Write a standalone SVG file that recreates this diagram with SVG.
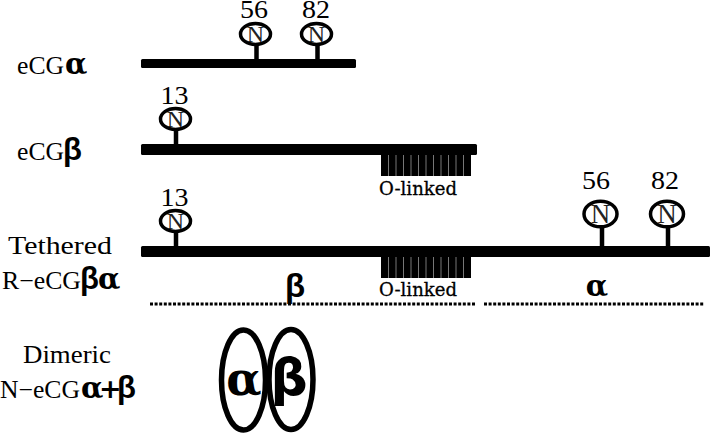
<svg xmlns="http://www.w3.org/2000/svg" width="710" height="433" viewBox="0 0 710 433">
<style>
text{font-family:"Liberation Serif","DejaVu Serif",serif;fill:#000}
.lab{font-size:25px}
.g{font-family:"DejaVu Serif",serif;font-weight:bold;font-size:29px}
.b{font-family:"Liberation Sans",sans-serif;font-weight:bold;font-size:31px}
.bb{font-family:"DejaVu Sans",sans-serif;font-weight:bold;font-size:52px}
.p{font-family:"DejaVu Sans",sans-serif;font-weight:bold;font-size:27px}
.num{font-size:26px;text-anchor:middle}
.n{font-size:24px;text-anchor:middle;fill:#222}
.n2{font-size:27px;text-anchor:middle;fill:#222}
.ol{font-size:18px;font-family:"DejaVu Serif",serif;stroke:#000;stroke-width:.3}
.bar{fill:#000}
.stem{stroke:#000;stroke-width:4.500}
.ring{fill:#fff;stroke:#000;stroke-width:3.500}
.big{fill:none;stroke:#000;stroke-width:5.500}
.dot{stroke:#000;stroke-width:3;stroke-dasharray:3 1.6;fill:none}
.tick{stroke:#777;stroke-width:1}
</style>
<defs>
<g id="comb"><rect x="381" width="90" height="21" fill="#000"/>
<path class="tick" d="M388.500 0v21M396 0v21M403.500 0v21M411 0v21M418.500 0v21M426 0v21M433.500 0v21M441 0v21M448.500 0v21M456 0v21M463.500 0v21"/></g>
</defs>
<g id="connectors">
<rect class="bar" x="141" y="59" width="215" height="9" rx="1.500"/>
<rect class="bar" x="141" y="144" width="336" height="11" rx="1.500"/>
<rect class="bar" x="141" y="246" width="569" height="11" rx="1.500"/>
<path class="stem" d="M256.500 45V59M317.500 45V59M176 130V144M176 232V246M602 226V246M668 226V246"/>
<path class="dot" d="M150 304H475M484 304H704"/>
</g>
<g id="label-alpha"><text class="lab" x="17" y="74" textLength="47" lengthAdjust="spacingAndGlyphs">eCG</text><text class="g" x="65" y="74">α</text></g>
<g id="label-beta"><text class="lab" x="17" y="160" textLength="47" lengthAdjust="spacingAndGlyphs">eCG</text><text class="b" x="63" y="160">β</text></g>
<g id="label-tethered"><text class="lab" x="8" y="254" textLength="104" lengthAdjust="spacingAndGlyphs">Tethered</text><text class="lab" x="2" y="289" textLength="79" lengthAdjust="spacingAndGlyphs">R−eCG</text><text x="80" y="289"><tspan class="b">β</tspan><tspan class="g" x="98">α</tspan></text></g>
<g id="label-dimeric"><text class="lab" x="23" y="363" textLength="88" lengthAdjust="spacingAndGlyphs">Dimeric</text><text class="lab" x="0" y="398" textLength="80" lengthAdjust="spacingAndGlyphs">N−eCG</text><text x="81" y="398"><tspan class="g">α</tspan><tspan class="p" x="99">+</tspan><tspan class="b" x="117">β</tspan></text></g>
<g id="site-a56"><text class="num" x="254" y="18" textLength="28" lengthAdjust="spacingAndGlyphs">56</text><ellipse class="ring" cx="255.500" cy="34" rx="15" ry="10.500"/><text class="n" x="255.500" y="42">N</text></g>
<g id="site-a82"><text class="num" x="316" y="18" textLength="28" lengthAdjust="spacingAndGlyphs">82</text><ellipse class="ring" cx="316.500" cy="34" rx="15" ry="10.500"/><text class="n" x="316.500" y="42">N</text></g>
<g id="site-b13"><text class="num" x="174.500" y="104" textLength="28" lengthAdjust="spacingAndGlyphs">13</text><ellipse class="ring" cx="175.500" cy="119" rx="15" ry="10.500"/><text class="n" x="175.500" y="127">N</text></g>
<g id="site-t13"><text class="num" x="174.500" y="206" textLength="28" lengthAdjust="spacingAndGlyphs">13</text><ellipse class="ring" cx="175.500" cy="221" rx="15" ry="10.500"/><text class="n" x="175.500" y="229">N</text></g>
<g id="site-t56"><text class="num" x="596" y="189" textLength="28" lengthAdjust="spacingAndGlyphs">56</text><ellipse class="ring" cx="600.500" cy="214" rx="16.500" ry="12.800"/><text class="n2" x="600.500" y="223">N</text></g>
<g id="site-t82"><text class="num" x="665" y="189" textLength="28" lengthAdjust="spacingAndGlyphs">82</text><ellipse class="ring" cx="667" cy="214" rx="16.500" ry="12.800"/><text class="n2" x="667" y="223">N</text></g>
<g id="comb-upper"><use href="#comb" y="155"/><text class="ol" x="379" y="195" textLength="78" lengthAdjust="spacingAndGlyphs">O-linked</text></g>
<g id="comb-lower"><use href="#comb" y="257"/><text class="ol" x="379" y="296" textLength="78" lengthAdjust="spacingAndGlyphs">O-linked</text></g>
<g id="domain-beta"><text class="b" style="font-size:33px" x="295" y="297" text-anchor="middle">β</text></g>
<g id="domain-alpha"><text class="g" x="597" y="296" text-anchor="middle">α</text></g>
<g id="dimer-alpha"><ellipse class="big" cx="243.500" cy="380" rx="22" ry="50"/><text class="g" style="font-size:46px" x="244" y="395" text-anchor="middle">α</text></g>
<g id="dimer-beta"><ellipse class="big" cx="291" cy="379.500" rx="22" ry="50"/><text class="bb" x="289" y="395" text-anchor="middle">β</text></g>
</svg>
